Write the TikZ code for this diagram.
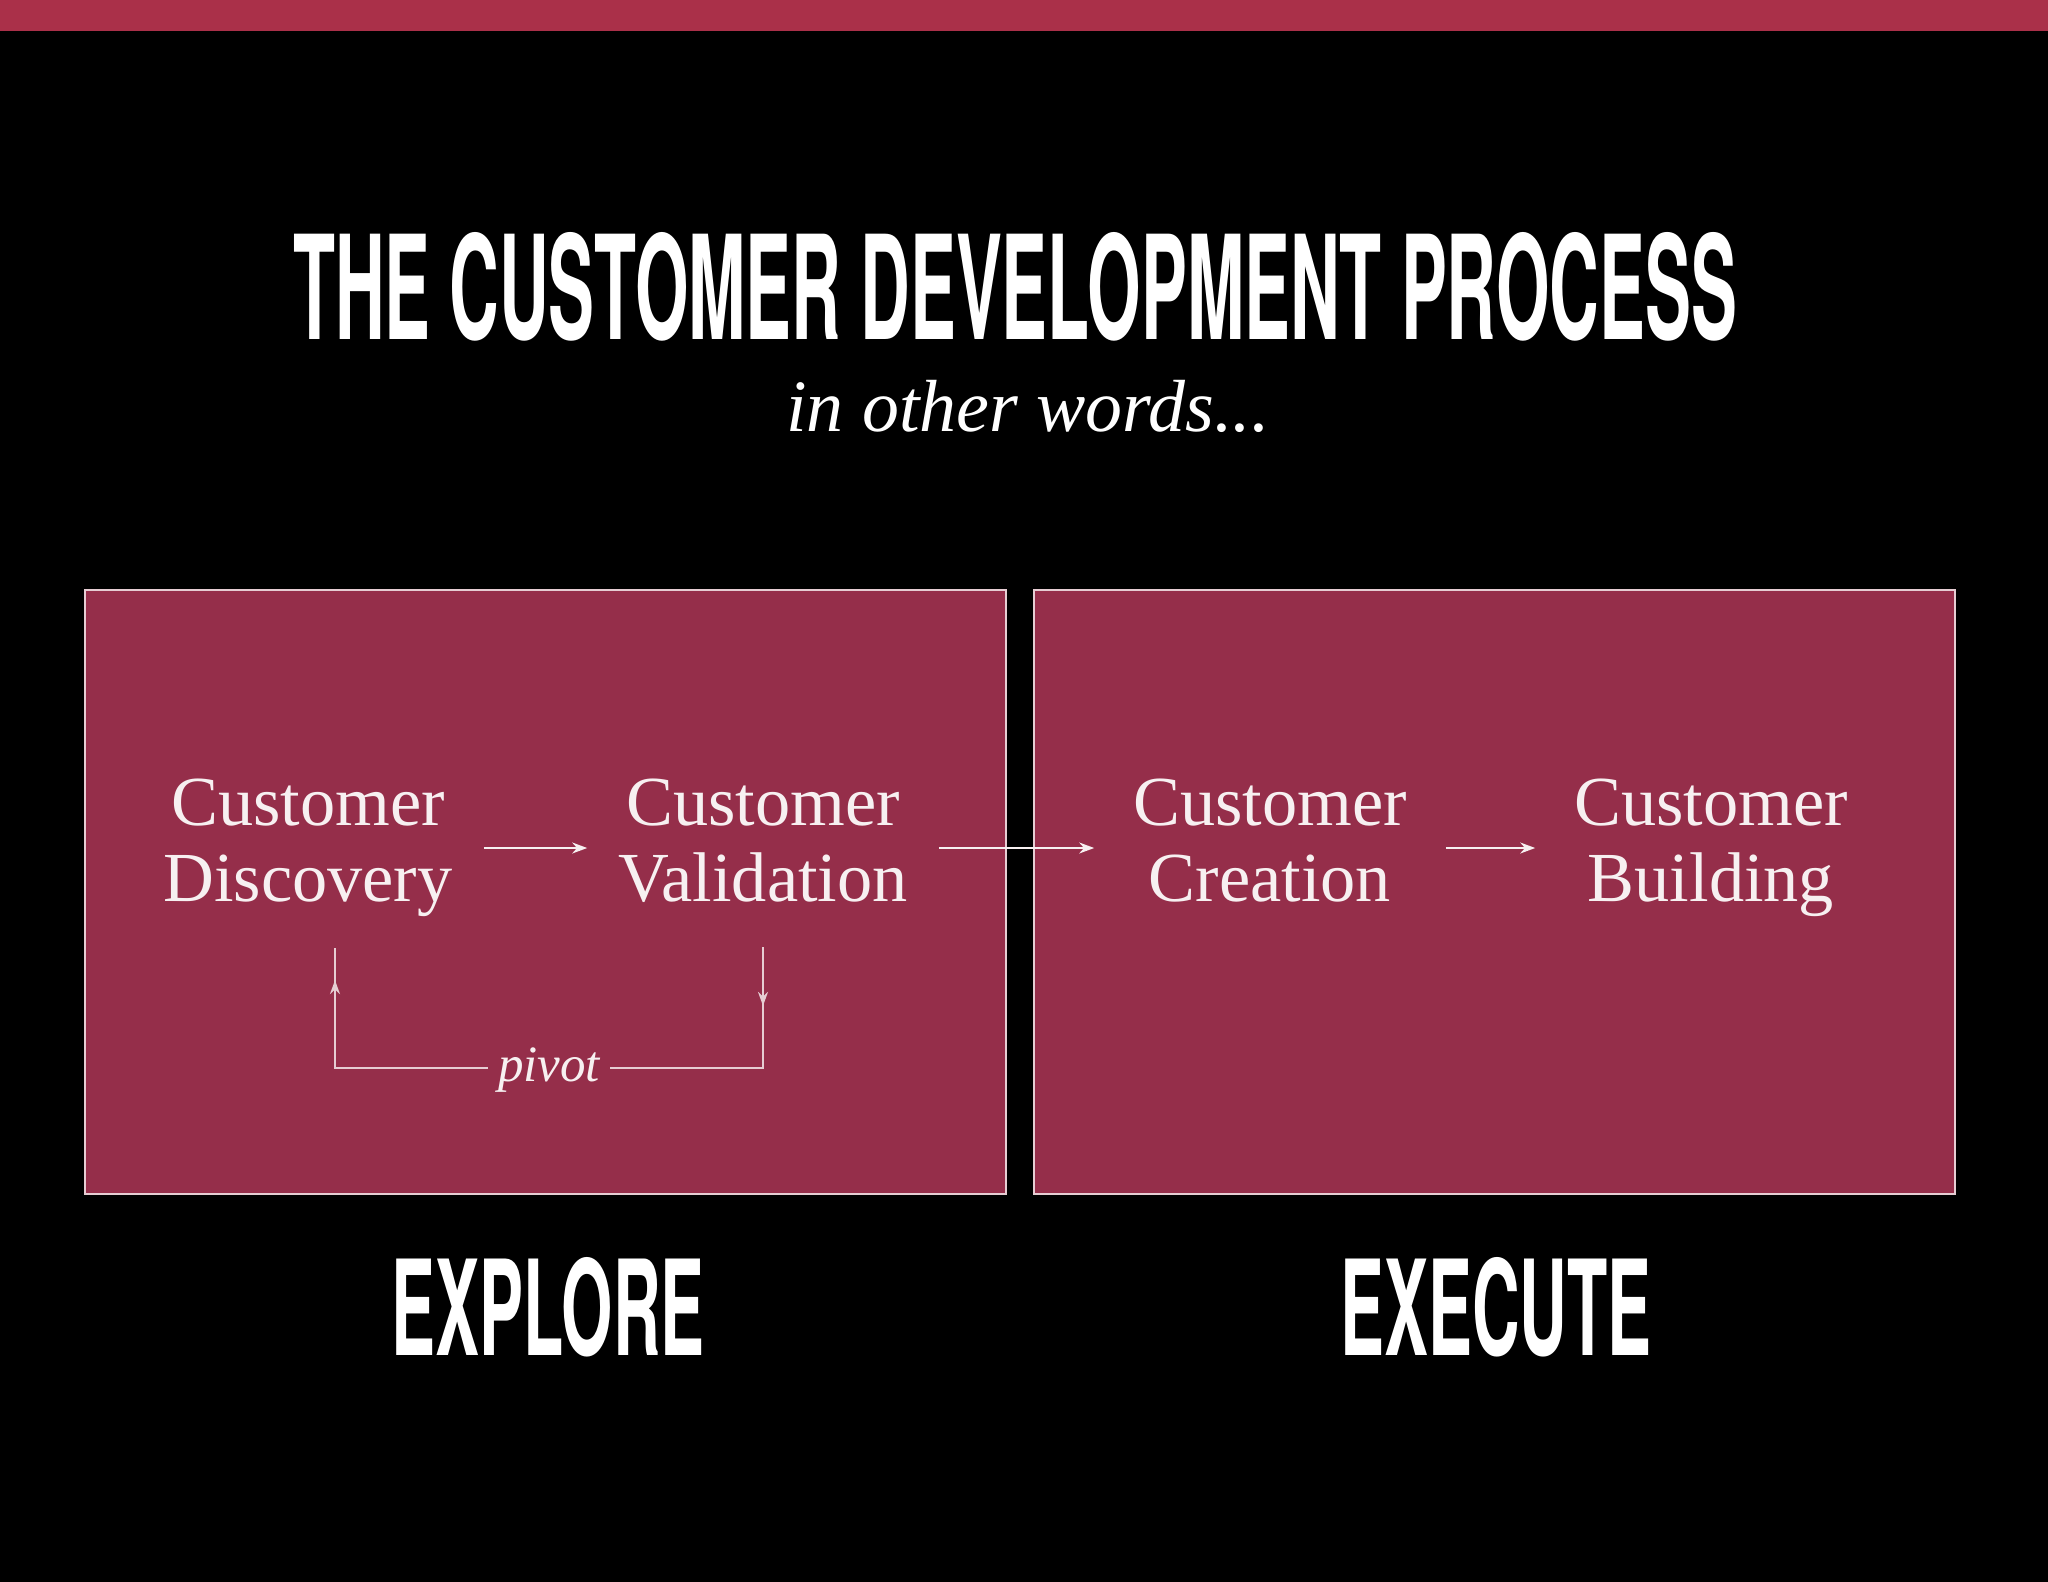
\documentclass[tikz,border=0pt]{standalone}
\usepackage{fontspec}
\setmainfont{Liberation Serif}
\newfontfamily\headfont{TeX Gyre Heros}
\usepackage{graphicx}
\usetikzlibrary{arrows.meta, decorations.markings}
\definecolor{barred}{HTML}{AA3049}
\definecolor{boxred}{HTML}{952E4A}
\definecolor{edgewhite}{HTML}{E6CDD3}
\definecolor{inkwhite}{HTML}{F7F0F1}
\newcommand{\squeezed}[3]{\resizebox{#1}{#2}{\headfont\bfseries #3}}
\tikzstyle{stage} = [rectangle, draw = edgewhite, fill = boxred, line width = 0.6pt, minimum width = 9.21cm, minimum height = 6.04cm]
\tikzstyle{phase} = [text = inkwhite, text width = 3.2cm, align = center, inner sep = 0pt, font = \fontsize{20}{21.6}\selectfont]
\tikzstyle{heading} = [text = white, inner sep = 0pt, anchor = south]
\tikzstyle{subtitle} = [text = white, inner sep = 0pt, anchor = base, font = \fontsize{21}{24}\selectfont\itshape]
\tikzstyle{flow} = [draw = inkwhite, line width = 0.55pt, -{Stealth[length = 1.5mm, width = 1.1mm]}, shorten <= 0.15cm, shorten >= 0.15cm]
\tikzstyle{pivotline} = [draw = edgewhite, line width = 0.55pt, postaction = decorate, decoration = {markings, mark = at position 0.088 with {\arrow{Stealth[length = 1.4mm, width = 1mm]}}, mark = at position 0.952 with {\arrow{Stealth[length = 1.4mm, width = 1mm]}}}]
\tikzstyle{pivotlabel} = [fill = boxred, text = inkwhite, inner xsep = 0.1cm, inner ysep = 0pt, anchor = mid, yshift = -0.05cm, font = \fontsize{14.5}{16}\selectfont\itshape]

\begin{document}
\begin{tikzpicture}[x = 0.01cm, y = -0.01cm]
			% Background
			\fill [black] (0, 0) rectangle (2048, 1582);
			\fill [barred] (0, 0) rectangle (2048, 31);
			% Place nodes
			\node [heading] (title) at (1015, 342) {\squeezed{14.43cm}{1.07cm}{THE CUSTOMER DEVELOPMENT PROCESS}};
			\node [subtitle] (inother) at (1028, 431) {in other words...};
			\node [stage] (explorebox) at (545.5, 892) {};
			\node [stage] (executebox) at (1494.5, 892) {};
			\node [phase] (discovery) at (308, 848) {Customer\strut\\Discovery\strut};
			\node [phase] (validation) at (763, 848) {Customer\strut\\Validation\strut};
			\node [phase] (creation) at (1270, 848) {Customer\strut\\Creation\strut};
			\node [phase] (building) at (1711, 848) {Customer\strut\\Building\strut};
			\node [heading] (explore) at (548, 1358) {\squeezed{3.13cm}{0.98cm}{EXPLORE}};
			\node [heading] (execute) at (1496, 1358) {\squeezed{3.11cm}{0.98cm}{EXECUTE}};
			\coordinate (pivotout) at (763, 947);
			\coordinate (pivotin) at (335, 948);
			% Draw edges
			\path [flow] (discovery.east) -- (validation.west);
			\path [flow] (validation.east) -- (creation.west);
			\path [flow] (creation.east) -- (building.west);
			\path [pivotline] (pivotout) -- (763, 1068) -- node [pivotlabel] {pivot} (335, 1068) -- (pivotin);
		\end{tikzpicture}
\end{document}
